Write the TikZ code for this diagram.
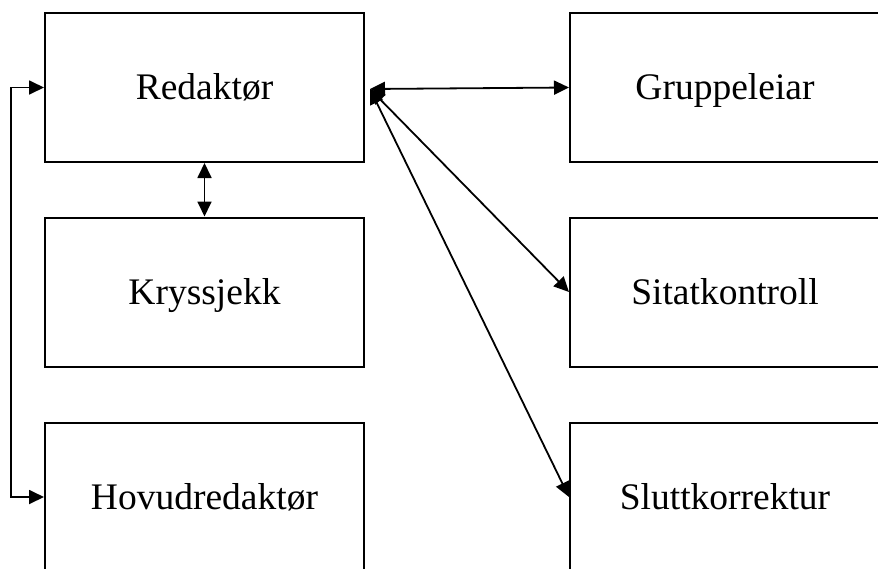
\documentclass[tikz,border=0pt]{standalone}
\usepackage{fontspec}
\setmainfont{Liberation Serif}
\usetikzlibrary{arrows.meta}
\begin{document}
\begin{tikzpicture}[x=1pt,y=-1pt,
  box/.style={draw,line width=2pt,rectangle,minimum width=319pt,minimum height=149pt,inner sep=0pt,text height=24pt,text depth=-2pt,font=\fontsize{37.5}{42}\selectfont},
  rbox/.style={box,minimum width=310pt},
  conn/.style={line width=1.8pt,{Triangle[length=15pt,width=14pt]}-{Triangle[length=15pt,width=14pt]}}]
\useasboundingbox (0,0) rectangle (878,568);
\clip (0,0) rectangle (878,568);
\node[box] (red) at (204.5,87.5) {Redaktør};
\node[box] (kry) at (204.5,292) {Kryssjekk};
\node[box] (hov) at (204.5,497) {Hovudredaktør};
\node[rbox] (gru) at (725,87.5) {Gruppeleiar};
\node[rbox] (sit) at (725,292) {Sitatkontroll};
\node[rbox] (slu) at (725,497) {Sluttkorrektur};
\coordinate (s) at (370,89);
\draw[conn] (red.south) -- (kry.north);
\draw[conn] (red.west) -- ++(-33,0) |- (hov.west);
\draw[conn] (s) -- (gru.west);
\draw[conn] (s) -- (sit.west);
\draw[conn] (s) -- (slu.west);
\end{tikzpicture}
\end{document}
